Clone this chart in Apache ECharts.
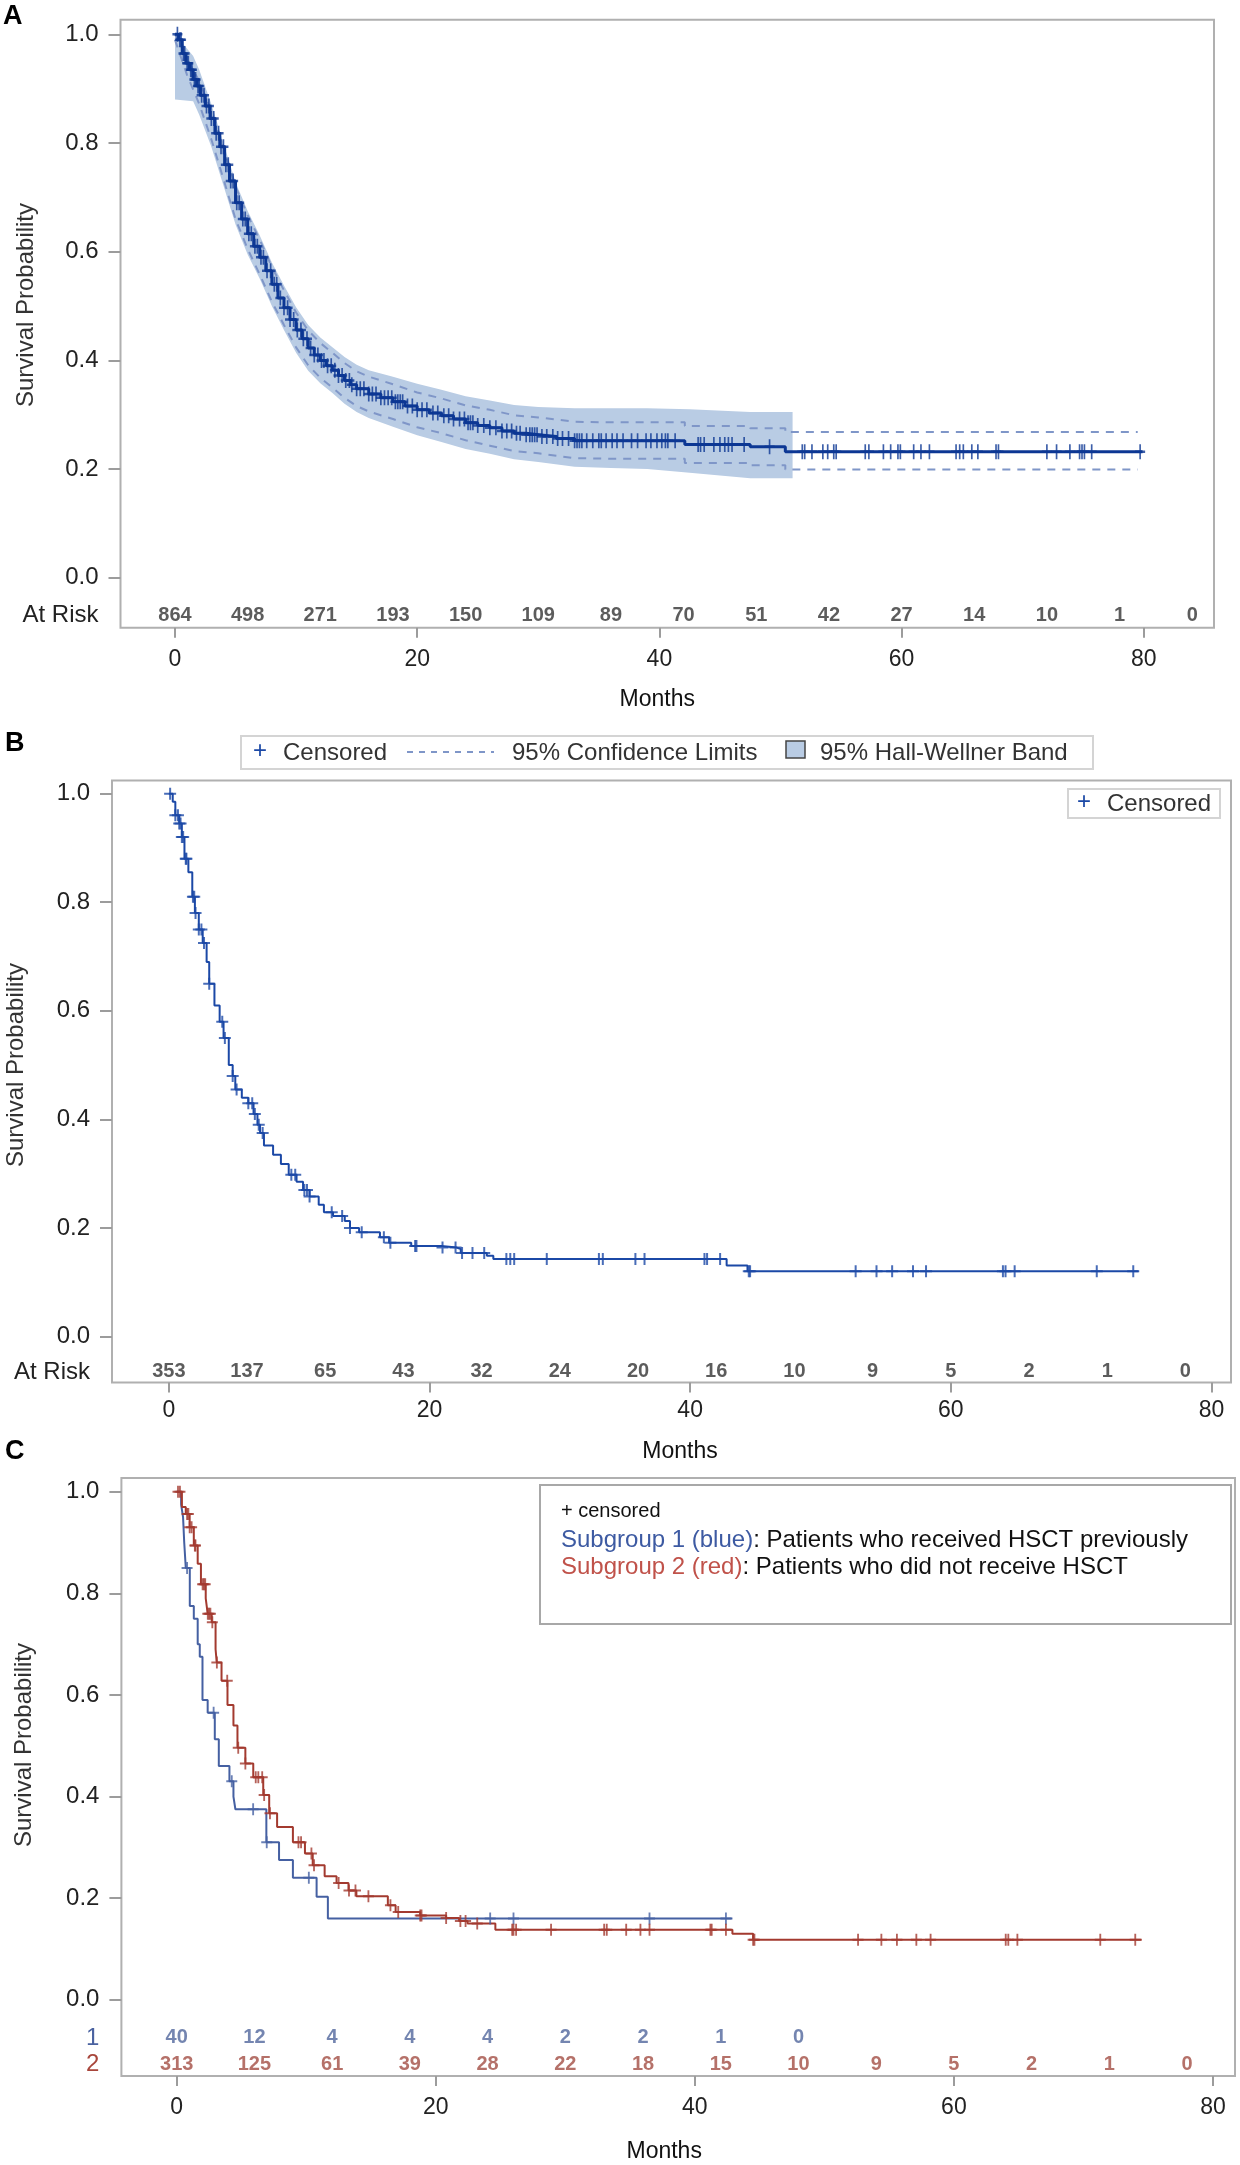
<!DOCTYPE html>
<html>
<head>
<meta charset="utf-8">
<script src="https://cdn.jsdelivr.net/npm/echarts@6/dist/echarts.min.js"></script>
<style>
  html, body { margin: 0; padding: 0; background: #fff; }
  #chart { width: 1240px; height: 2165px; }
</style>
</head>
<body>
<div id="chart"></div>
<script>
// ---------- panel A : all patients, with 95% CI and Hall-Wellner band ----------
var aTime = [0, 0.3, 0.6, 0.9, 1.2, 1.5, 1.8, 2.1, 2.5, 2.9, 3.3, 3.7, 4.1, 4.5, 5.0, 5.5, 6.0, 6.5, 7.0, 7.5, 8.0, 8.5, 9.0, 9.5, 10.0,
             10.5, 11.0, 11.5, 12.0, 12.5, 13.0, 13.5, 14.0, 14.5, 15.0, 16.0, 17.0, 18.0, 19.0, 20.0, 21.0, 22.0, 23.0, 24.0, 25.0,
             26.0, 27.0, 28.0, 29.0, 30.0, 31.5, 33.0, 42.1, 47.5, 50.4, 79.9];
var aSurv = [1.0, 0.99, 0.965, 0.947, 0.935, 0.917, 0.905, 0.888, 0.868, 0.845, 0.818, 0.793, 0.76, 0.73, 0.69, 0.66, 0.633, 0.61, 0.59, 0.565, 0.54, 0.515, 0.497, 0.475, 0.456,
             0.44, 0.423, 0.41, 0.40, 0.39, 0.382, 0.372, 0.363, 0.355, 0.348, 0.338, 0.331, 0.324, 0.316, 0.309, 0.303, 0.298, 0.292, 0.285, 0.28,
             0.276, 0.27, 0.266, 0.263, 0.26, 0.256, 0.252, 0.245, 0.241, 0.232, 0.232];
var aCensor = [0.2, 0.4, 0.5, 0.7, 0.8, 1.0, 1.1, 1.3, 1.4, 1.6, 1.7, 1.9, 2.0, 2.2, 2.4, 2.6, 2.8, 3.0, 3.2, 3.4, 3.6, 3.8, 4.0, 4.2, 4.4, 4.6, 4.8,
               5.1, 5.3, 5.6, 5.8, 6.1, 6.3, 6.6, 6.8, 7.1, 7.3, 7.6, 7.9, 8.2, 8.4, 8.7, 9.0, 9.3, 9.5, 9.8, 10.1, 10.4, 10.6, 10.9,
               11.2, 11.5, 11.8, 12.1, 12.3, 12.6, 12.9, 13.2, 13.5, 13.8, 14.1, 14.4, 14.6, 15.0, 15.3, 15.6, 16.0, 16.3, 16.6, 17.0,
               17.3, 17.6, 17.9, 18.2, 18.4, 18.6, 18.8, 19.2, 19.6, 20.0, 20.4, 20.8, 21.3, 21.7, 22.2, 22.6, 23.0, 23.5, 23.9, 24.2,
               24.4, 24.6, 25.0, 25.5, 26.0, 26.5, 27.0, 27.4, 27.8, 28.2, 28.5, 29.0, 29.3, 29.5, 29.7, 29.9, 30.3, 30.7, 31.2, 31.6,
               32.0, 32.5, 33.0, 33.2, 33.4, 33.6, 34.0, 34.5, 35.0, 35.2, 35.6, 36.1, 36.5, 37.0, 37.7, 38.2, 38.9, 39.3, 39.8, 40.2,
               40.5, 40.7, 41.3, 43.2, 43.4, 43.7, 44.5, 45.0, 45.4, 45.7, 46.0, 47.0, 49.1, 51.8, 52.0, 52.6, 53.5, 53.9, 54.4, 54.6,
               57.0, 57.3, 58.5, 59.1, 59.7, 59.9, 61.0, 61.6, 62.3, 64.5, 64.8, 65.1, 65.8, 66.3, 67.8, 68.0, 72.0, 72.8, 73.9, 74.7,
               74.9, 75.1, 75.7, 79.7];
var aBandTime = [0, 1.5, 2, 3, 4, 5, 6, 7, 8, 9, 10, 11, 12, 13, 14, 15, 16, 18, 20, 22, 24, 26, 28, 30, 33, 36, 39, 42.5, 47.5, 51];
var aBandLow  = [0.88, 0.877, 0.852, 0.793, 0.722, 0.65, 0.595, 0.55, 0.50, 0.456, 0.414, 0.381, 0.358, 0.34, 0.32, 0.305, 0.294, 0.278, 0.262, 0.25,
                 0.237, 0.228, 0.218, 0.213, 0.204, 0.202, 0.2, 0.193, 0.183, 0.183];
var aBandHigh = [1.0, 0.96, 0.935, 0.872, 0.80, 0.728, 0.675, 0.63, 0.58, 0.538, 0.498, 0.465, 0.442, 0.424, 0.406, 0.392, 0.382, 0.37, 0.357, 0.346,
                 0.334, 0.326, 0.318, 0.314, 0.312, 0.312, 0.312, 0.31, 0.305, 0.305];
var aCiTime = [0, 1, 2, 3, 4, 5, 6, 7, 8, 9, 10, 11, 12, 13, 14, 15, 16, 18, 20, 22, 24, 26, 28, 30, 33, 36, 42.1, 42.1, 47.5, 47.5, 50.4, 50.4, 79.5];
var aCiLow  = [0.99, 0.925, 0.872, 0.807, 0.734, 0.66, 0.605, 0.558, 0.508, 0.465, 0.424, 0.391, 0.368, 0.35, 0.331, 0.316, 0.306,
               0.292, 0.277, 0.266, 0.253, 0.243, 0.233, 0.229, 0.22, 0.219, 0.219, 0.211, 0.211, 0.207, 0.207, 0.199, 0.199];
var aCiHigh = [1.0, 0.955, 0.914, 0.859, 0.792, 0.72, 0.667, 0.622, 0.572, 0.529, 0.488, 0.455, 0.432, 0.414, 0.395, 0.38, 0.37,
               0.356, 0.341, 0.33, 0.317, 0.309, 0.299, 0.295, 0.287, 0.286, 0.286, 0.279, 0.279, 0.275, 0.275, 0.268, 0.268];
var aRiskTime = [0, 6, 12, 18, 24, 30, 36, 42, 48, 54, 60, 66, 72, 78, 84];
var aRisk = [864, 498, 271, 193, 150, 109, 89, 70, 51, 42, 27, 14, 10, 1, 0];

// ---------- panel B : all patients ----------
var bTime = [0, 0.3, 0.5, 0.8, 1.0, 1.2, 1.5, 1.8, 2.0, 2.3, 2.6, 2.9, 3.1, 3.5, 3.9, 4.2, 4.6, 4.9, 5.1, 5.6, 6.1, 6.5, 6.8, 7.0, 7.3,
             8.0, 8.6, 9.2, 9.8, 10.3, 10.8, 11.5, 11.9, 12.6, 13.5, 13.9, 14.6, 16.2, 16.9, 18.6, 20.9, 22.1, 22.4, 24.4, 24.9, 42.8, 44.4, 74.4];
var bSurv = [1.0, 0.985, 0.96, 0.945, 0.92, 0.88, 0.855, 0.81, 0.78, 0.75, 0.725, 0.69, 0.65, 0.61, 0.58, 0.55, 0.5, 0.48, 0.455, 0.44, 0.43, 0.41, 0.39, 0.375, 0.352,
             0.335, 0.318, 0.298, 0.285, 0.27, 0.258, 0.243, 0.229, 0.222, 0.213, 0.2, 0.192, 0.183, 0.173, 0.167, 0.164, 0.161, 0.154, 0.149, 0.143, 0.131, 0.1205, 0.1205];
var bCensor = [0.1, 0.5, 0.7, 0.8, 0.9, 1.0, 1.1, 1.3, 1.35, 1.85, 1.95, 2.05, 2.3, 2.5, 2.7, 3.1, 4.1, 4.3, 4.9, 5.2, 6.1, 6.4, 6.6, 6.9, 7.2,
               9.4, 9.7, 10.4, 10.6, 10.8, 12.5, 13.3, 13.9, 14.8, 16.5, 17.0, 18.9, 19.0, 21.0, 22.0, 22.5, 23.3, 24.2, 25.9, 26.2, 26.5,
               29.0, 33.0, 33.3, 35.8, 36.5, 41.1, 41.3, 42.3, 44.5, 44.6, 52.7, 54.3, 55.5, 57.1, 58.1, 64.0, 64.2, 64.9, 71.2, 74.0];
var bRiskTime = [0, 6, 12, 18, 24, 30, 36, 42, 48, 54, 60, 66, 72, 78];
var bRisk = [353, 137, 65, 43, 32, 24, 20, 16, 10, 9, 5, 2, 1, 0];

// ---------- panel C : subgroup 1 (HSCT before) vs subgroup 2 ----------
var c1Time = [0, 0.34, 0.49, 0.58, 0.70, 1.01, 1.32, 1.62, 1.78, 1.99, 2.39, 2.94, 3.25, 4.07, 4.38, 4.53, 6.92, 7.9, 8.97, 10.8, 11.67, 42.9];
var c1Surv = [1.0, 0.975, 0.95, 0.90, 0.85, 0.775, 0.75, 0.70, 0.675, 0.59, 0.565, 0.513, 0.46, 0.43, 0.40, 0.375, 0.31, 0.275, 0.24, 0.203, 0.16, 0.16];
var c1Censor = [0.8, 2.85, 4.25, 5.9, 6.95, 10.2, 24.2, 26.0, 36.5, 42.4];
var c2Time = [0, 0.4, 0.7, 1.0, 1.32, 1.62, 1.87, 2.24, 2.39, 2.7, 3.0, 3.09, 3.46, 3.92, 4.38, 4.69, 5.3, 5.91, 6.68, 7.14, 7.75,
              8.97, 9.9, 10.5, 11.42, 12.34, 13.26, 13.87, 16.3, 16.9, 18.8, 20.8, 21.8, 22.45, 24.6, 42.9, 44.5, 74.5];
var c2Surv = [1.0, 0.97, 0.956, 0.93, 0.894, 0.858, 0.818, 0.79, 0.76, 0.743, 0.69, 0.664, 0.628, 0.58, 0.54, 0.496, 0.465, 0.438, 0.403, 0.367, 0.34,
              0.31, 0.288, 0.265, 0.243, 0.23, 0.215, 0.204, 0.186, 0.173, 0.166, 0.161, 0.155, 0.15, 0.138, 0.13, 0.118, 0.118];
var c2Censor = [0.1, 0.25, 0.8, 0.9, 1.0, 1.15, 1.4, 1.45, 2.0, 2.1, 2.2, 2.4, 2.5, 2.6, 2.75, 3.1, 3.9, 4.75, 5.3, 6.1, 6.3, 6.6, 6.75, 7.2,
                9.4, 9.6, 10.4, 10.6, 12.5, 13.3, 13.8, 14.8, 16.5, 17.1, 18.8, 18.9, 20.8, 21.9, 22.3, 23.2, 25.9, 26.0, 26.2, 28.9,
                33.0, 33.2, 34.7, 35.8, 36.5, 41.2, 41.3, 42.4, 44.5, 44.6, 52.6, 54.4, 55.6, 57.1, 58.2, 64.0, 64.2, 64.9, 71.3, 74.0];
var c1RiskTime = [0, 6, 12, 18, 24, 30, 36, 42, 48];
var c1Risk = [40, 12, 4, 4, 4, 2, 2, 1, 0];
var c2RiskTime = [0, 6, 12, 18, 24, 30, 36, 42, 48, 54, 60, 66, 72, 78];
var c2Risk = [313, 125, 61, 39, 28, 22, 18, 15, 10, 9, 5, 2, 1, 0];

var xTicks = [0, 20, 40, 60, 80];
var yTicks = [0, 0.2, 0.4, 0.6, 0.8, 1.0];

// ---------- helpers ----------
var FONT = "'Liberation Sans', Arial, sans-serif";
var PLUS = 'path://M-1,-6L1,-6L1,-1L6,-1L6,1L1,1L1,6L-1,6L-1,1L-6,1L-6,-1L-1,-1Z';

function pairs(xs, ys) {
    return xs.map(function (x, i) { return [x, ys[i]]; });
}
function survAt(times, surv, t) {
    for (var i = times.length - 1; i >= 0; i--) {
        if (times[i] <= t + 1e-9) return surv[i];
    }
    return surv[0];
}
function censorPts(cens, times, surv) {
    return cens.map(function (t) { return [t, survAt(times, surv, t)]; });
}
function riskPts(times, counts, row) {
    return times.map(function (t, i) { return [t, row, counts[i]]; });
}

function xAxisCfg(gi, min, max, gap, pad, margin) {
    return {
        type: 'value', gridIndex: gi, min: min, max: max,
        name: 'Months', nameLocation: 'middle', nameGap: gap,
        nameTextStyle: { fontFamily: FONT, fontSize: 23, color: '#111', padding: pad },
        axisLine: { show: false, onZero: false },
        axisTick: { show: true, length: 10, customValues: xTicks, lineStyle: { color: '#9c9c9c', width: 2 } },
        axisLabel: { customValues: xTicks, margin: margin, fontFamily: FONT, fontSize: 23, color: '#222' },
        splitLine: { show: false }
    };
}
function yAxisCfg(gi, min, max, labelValues, formatter, rich) {
    return {
        type: 'value', gridIndex: gi, min: min, max: max,
        axisLine: { show: false, onZero: false },
        axisTick: { show: true, length: 12, customValues: yTicks, lineStyle: { color: '#9c9c9c', width: 2 } },
        axisLabel: { customValues: labelValues, margin: 22, fontFamily: FONT, fontSize: 24, color: '#222',
                     formatter: formatter, rich: rich },
        splitLine: { show: false }
    };
}
function stepLine(gi, data, color, width, z) {
    return { type: 'line', xAxisIndex: gi, yAxisIndex: gi, data: data, step: 'end', symbol: 'none',
             lineStyle: { color: color, width: width }, z: z || 4, silent: true };
}
function marks(gi, data, color, size) {
    return { type: 'scatter', xAxisIndex: gi, yAxisIndex: gi, data: data, symbol: PLUS, symbolSize: size,
             itemStyle: { color: color }, z: 5, silent: true };
}
function riskRow(gi, data, color) {
    return { type: 'scatter', xAxisIndex: gi, yAxisIndex: gi, data: data, symbolSize: 1,
             itemStyle: { color: 'rgba(0,0,0,0)' }, silent: true,
             label: { show: true, position: 'inside', fontFamily: FONT, fontSize: 20, fontWeight: 'bold', color: color,
                      formatter: function (p) { return p.value[2]; } } };
}
function txt(x, y, text, size, color, extra) {
    var el = { type: 'text', x: x, y: y, silent: true,
               style: { text: text, fontFamily: FONT, fontSize: size, fill: color,
                        textAlign: 'left', textVerticalAlign: 'middle', align: 'left', verticalAlign: 'middle' } };
    if (extra) { for (var k in extra) el.style[k] = extra[k]; }
    return el;
}
function yTitle(x, y) {
    return { type: 'text', x: x, y: y, rotation: Math.PI / 2, silent: true,
             style: { text: 'Survival Probability', fontFamily: FONT, fontSize: 24, fill: '#333',
                      textAlign: 'center', textVerticalAlign: 'middle', align: 'center', verticalAlign: 'middle' } };
}

// Hall-Wellner band as one polygon, placed through the axis scales
function bandItem(params, api) {
    if (params.dataIndex !== 0) return null;
    var pts = [];
    for (var i = 0; i < aBandTime.length; i++) pts.push(api.coord([aBandTime[i], aBandHigh[i]]));
    for (var j = aBandTime.length - 1; j >= 0; j--) pts.push(api.coord([aBandTime[j], aBandLow[j]]));
    return { type: 'polygon', shape: { points: pts }, style: { fill: '#b9cce4' } };
}

var aRiskRow = -0.069, bRiskRow = -0.065, c1Row = -0.075, c2Row = -0.128;

var chart = echarts.init(document.getElementById('chart'));
var option = {
    animation: false,
    backgroundColor: '#fff',
    grid: [
        { left: 120.5, top: 19.7, width: 1093.5, height: 608, show: true, borderColor: '#b0b0b0', borderWidth: 2, backgroundColor: '#fff' },
        { left: 112, top: 780.6, width: 1119, height: 602, show: true, borderColor: '#b0b0b0', borderWidth: 2, backgroundColor: '#fff' },
        { left: 121.4, top: 1478, width: 1113.6, height: 598, show: true, borderColor: '#b0b0b0', borderWidth: 2, backgroundColor: '#fff' }
    ],
    xAxis: [
        xAxisCfg(0, -4.5, 85.8, 60, [0, 20, 0, 0], 20),
        xAxisCfg(1, -4.36, 81.5, 58, [0, 0, 0, 17], 17),
        xAxisCfg(2, -4.27, 81.7, 64, [0, 28, 0, 0], 20)
    ],
    yAxis: [
        yAxisCfg(0, -0.092, 1.027, [aRiskRow].concat(yTicks), function (v) { return v < -0.01 ? 'At Risk' : v.toFixed(1); }),
        yAxisCfg(1, -0.0847, 1.024, [bRiskRow].concat(yTicks), function (v) { return v < -0.01 ? 'At Risk' : v.toFixed(1); }),
        yAxisCfg(2, -0.150, 1.027, [c2Row, c1Row].concat(yTicks), function (v) {
            if (v < -0.1) return '{r|2}';
            if (v < -0.01) return '{b|1}';
            return v.toFixed(1);
        }, { b: { color: '#4a62a0', fontSize: 24, fontFamily: FONT }, r: { color: '#a8463b', fontSize: 24, fontFamily: FONT } })
    ],
    series: [
        // panel A
        { type: 'custom', xAxisIndex: 0, yAxisIndex: 0, data: [[0, 0]], renderItem: bandItem, silent: true, z: 1 },
        { type: 'line', xAxisIndex: 0, yAxisIndex: 0, data: pairs(aCiTime, aCiLow), symbol: 'none', silent: true, z: 2,
          lineStyle: { color: '#7f96c8', width: 2, type: [8, 7] } },
        { type: 'line', xAxisIndex: 0, yAxisIndex: 0, data: pairs(aCiTime, aCiHigh), symbol: 'none', silent: true, z: 2,
          lineStyle: { color: '#7f96c8', width: 2, type: [8, 7] } },
        stepLine(0, pairs(aTime, aSurv), '#0c3794', 3),
        marks(0, censorPts(aCensor, aTime, aSurv), '#0c3794', [10, 15]),
        riskRow(0, riskPts(aRiskTime, aRisk, aRiskRow), '#333'),
        // panel B
        stepLine(1, pairs(bTime, bSurv), '#1b48a6', 2),
        marks(1, censorPts(bCensor, bTime, bSurv), '#1b48a6', [12, 12]),
        riskRow(1, riskPts(bRiskTime, bRisk, bRiskRow), '#333'),
        // panel C
        stepLine(2, pairs(c1Time, c1Surv), '#4560a2', 2),
        stepLine(2, pairs(c2Time, c2Surv), '#a33a2f', 2),
        marks(2, censorPts(c1Censor, c1Time, c1Surv), '#4560a2', [11, 12]),
        marks(2, censorPts(c2Censor, c2Time, c2Surv), '#a33a2f', [11, 12]),
        riskRow(2, riskPts(c1RiskTime, c1Risk, c1Row), '#51669c'),
        riskRow(2, riskPts(c2RiskTime, c2Risk, c2Row), '#a34e43')
    ],
    graphic: [
        txt(3, 17, 'A', 27, '#000', { fontWeight: 'bold' }),
        txt(5, 744, 'B', 27, '#000', { fontWeight: 'bold' }),
        txt(5, 1452, 'C', 27, '#000', { fontWeight: 'bold' }),
        yTitle(26, 305),
        yTitle(16, 1065),
        yTitle(24, 1745),
        // panel B outer legend
        { type: 'rect', silent: true, shape: { x: 241, y: 736, width: 852, height: 33 },
          style: { fill: '#fff', stroke: '#d4d4d4', lineWidth: 2 } },
        txt(253, 751, '+', 24, '#1b48a6'),
        txt(283, 753, 'Censored', 24, '#333'),
        { type: 'line', silent: true, shape: { x1: 407, y1: 752, x2: 494, y2: 752 },
          style: { stroke: '#7f96c8', lineWidth: 2, lineDash: [6, 6] } },
        txt(512, 753, '95% Confidence Limits', 24, '#333'),
        { type: 'rect', silent: true, shape: { x: 786, y: 741, width: 19, height: 17 },
          style: { fill: '#b9cce4', stroke: '#444', lineWidth: 1.5 } },
        txt(820, 753, '95% Hall-Wellner Band', 24, '#333'),
        // panel B inner legend
        { type: 'rect', silent: true, shape: { x: 1068, y: 789, width: 152, height: 29 },
          style: { fill: '#fff', stroke: '#d4d4d4', lineWidth: 2 } },
        txt(1077, 802, '+', 24, '#1b48a6'),
        txt(1107, 804, 'Censored', 24, '#333'),
        // panel C legend
        { type: 'rect', silent: true, shape: { x: 540, y: 1485, width: 691, height: 139 },
          style: { fill: '#fff', stroke: '#a8a8a8', lineWidth: 2 } },
        txt(561, 1511, '+ censored', 20, '#111'),
        txt(561, 1540, '{b|Subgroup 1 (blue)}: Patients who received HSCT previously', 24, '#111',
            { rich: { b: { fill: '#3d5aa2', fontSize: 24, fontFamily: FONT } } }),
        txt(561, 1567, '{r|Subgroup 2 (red)}: Patients who did not receive HSCT', 24, '#111',
            { rich: { r: { fill: '#c0524a', fontSize: 24, fontFamily: FONT } } })
    ]
};
chart.setOption(option);
</script>
</body>
</html>
